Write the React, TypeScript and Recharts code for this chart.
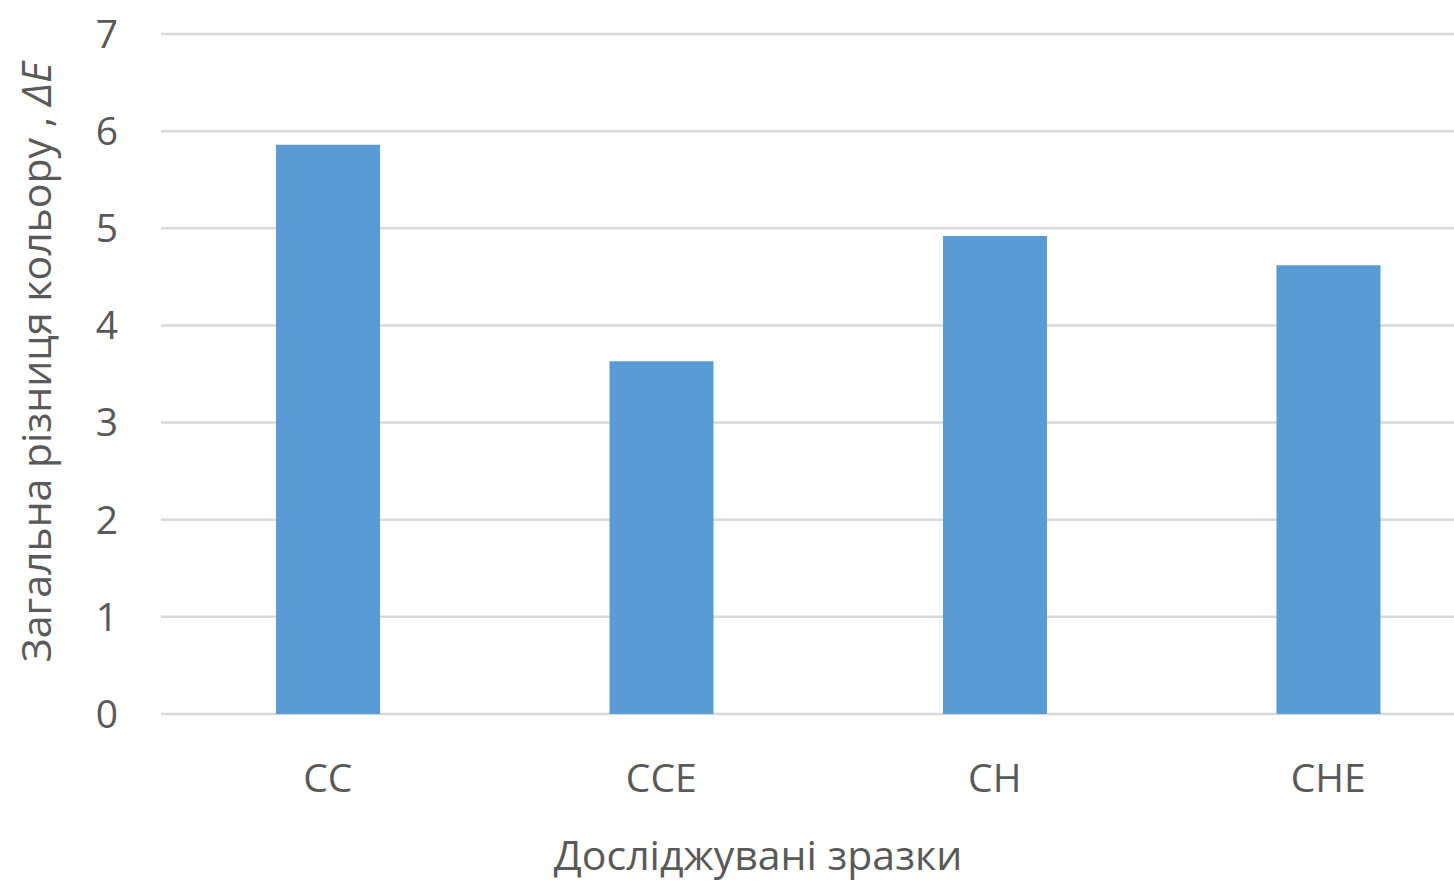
import React from 'react';
import { BarChart, Bar, XAxis, YAxis, CartesianGrid, Label } from 'recharts';

const samples = ['CC', 'CCE', 'CH', 'CHE'];
const deltaE = [5.86, 3.63, 4.92, 4.62];
const yTicks = [0, 1, 2, 3, 4, 5, 6, 7];

const data = samples.map((name, i) => ({ name, value: deltaE[i] }));

const FONT = '"Open Sans", "Noto Sans", sans-serif';
const TEXT = '#595959';

const YTitle = () => (
  <text
    x={35}
    y={362}
    transform="rotate(-90 35 362)"
    textAnchor="middle"
    dominantBaseline="central"
    fill={TEXT}
    fontFamily={FONT}
    fontSize={41}
  >
    Загальна різниця кольору , <tspan fontStyle="italic">ΔE</tspan>
  </text>
);

const XTitle = () => (
  <text x={758} y={854} textAnchor="middle" dominantBaseline="central" fill={TEXT} fontFamily={FONT} fontSize={41}>
    Досліджувані зразки
  </text>
);

export default function App() {
  return (
    <div style={{ position: 'absolute', left: 0, top: 0, width: 1454, height: 882, overflow: 'hidden', background: '#fff' }}>
      <BarChart width={1500} height={882} data={data} margin={{ top: 34, right: 5, bottom: 138, left: 0 }}>
        <CartesianGrid vertical={false} stroke="#d9d9d9" strokeWidth={2.5} />
        <XAxis
          dataKey="name"
          axisLine={false}
          tickLine={false}
          tickSize={0}
          tickMargin={50}
          tick={{ fontSize: 39, fill: TEXT, fontFamily: FONT }}
        >
          <Label content={<XTitle />} />
        </XAxis>
        <YAxis
          width={161}
          domain={[0, 7]}
          ticks={yTicks}
          axisLine={false}
          tickLine={false}
          tickSize={0}
          tickMargin={43}
          tick={{ fontSize: 39, fill: TEXT, fontFamily: FONT }}
        >
          <Label content={<YTitle />} />
        </YAxis>
        <Bar dataKey="value" fill="#5b9bd5" barSize={104} isAnimationActive={false} />
      </BarChart>
    </div>
  );
}
